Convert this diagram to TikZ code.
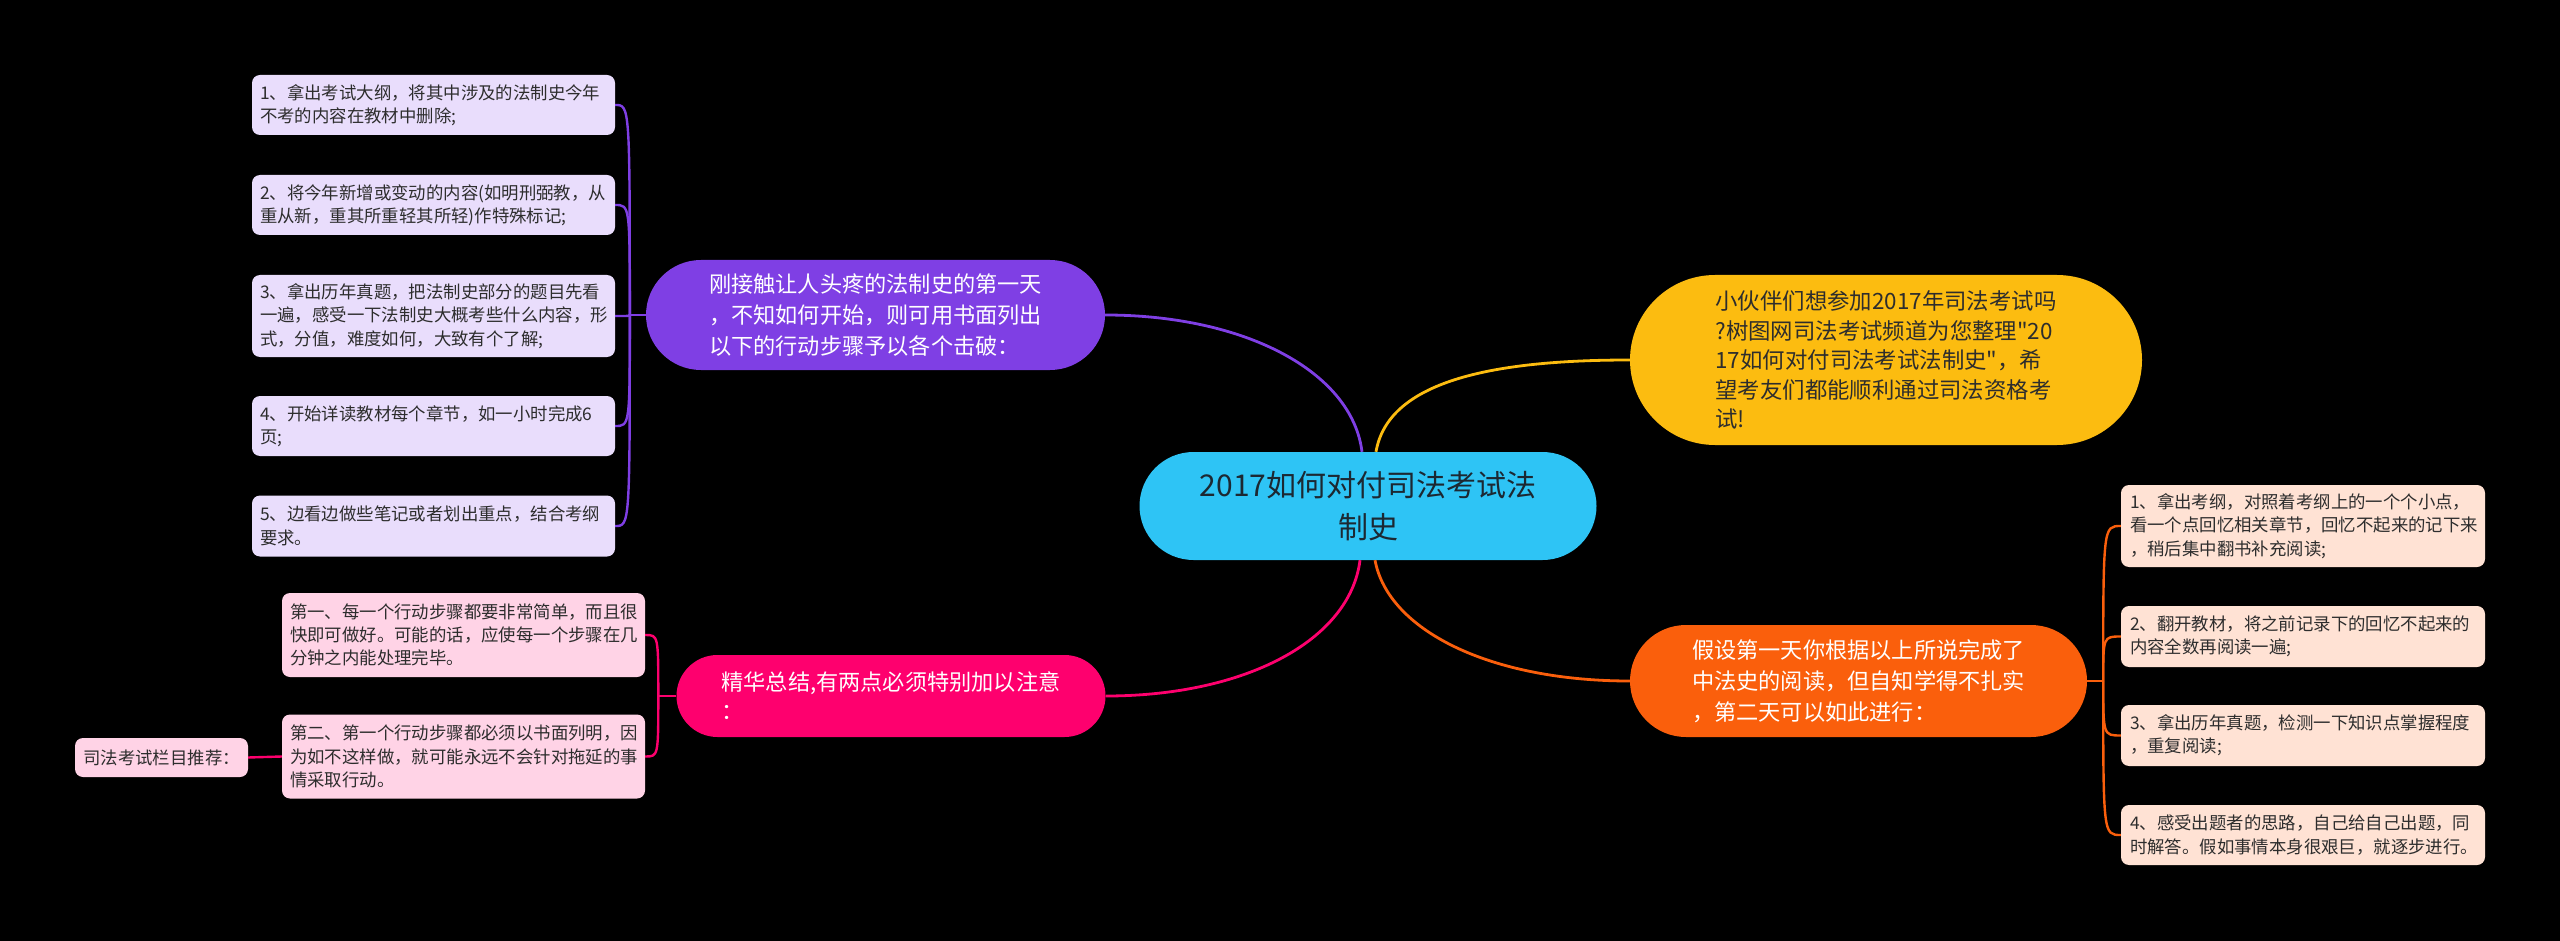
\documentclass[tikz,border=0pt]{standalone}
\usepackage{fontspec}
\setmainfont{Noto Sans CJK SC}
\newfontfamily\plaincjk{Noto Sans CJK SC}
\usetikzlibrary{calc}
\definecolor{cblue}{RGB}{46,196,245}
\definecolor{cpurple}{RGB}{127,63,228}
\definecolor{cyellow}{RGB}{252,188,16}
\definecolor{corange}{RGB}{250,95,12}
\definecolor{cpink}{RGB}{254,0,110}
\definecolor{lpurple}{RGB}{233,221,252}
\definecolor{lpink}{RGB}{255,211,230}
\definecolor{lorange}{RGB}{255,226,212}
\definecolor{tdark}{RGB}{45,45,45}
\definecolor{tcenter}{RGB}{28,40,50}
\tikzset{
  mainnode/.style={rectangle,inner sep=0pt,align=left},
  leafbox/.style={rectangle,rounded corners=8pt,inner xsep=8pt,inner ysep=0pt,
    text width=347pt,align=left,text=tdark,font=\fontsize{17.4}{23.3}\selectfont},
  mainline/.style={line width=2.8pt},
  leafline/.style={line width=2.4pt}
}
\begin{document}
\begin{tikzpicture}[x=1pt,y=-1pt]
\useasboundingbox[fill=black] (0,0) rectangle (2560,941);

% main nodes
\node[mainnode,fill=cblue,minimum width=457pt,minimum height=108pt,rounded corners=54pt,
  align=center,text=tcenter,font=\fontsize{30}{42}\selectfont] (c) at (1368,506)
  {2017如何对付司法考试法\\制史};
\node[mainnode,fill=cpurple,minimum width=459pt,minimum height=110pt,rounded corners=55pt,
  text=white,font=\fontsize{22.2}{31}\selectfont] (pm) at (875.5,315)
  {刚接触让人头疼的法制史的第一天\\，不知如何开始，则可用书面列出\\以下的行动步骤予以各个击破：};
\node[mainnode,fill=cyellow,minimum width=512pt,minimum height=170pt,rounded corners=85pt,
  text=tdark,font=\plaincjk\fontsize{22.4}{29.5}\selectfont] (ym) at (1886,360)
  {小伙伴们想参加2017年司法考试吗\\?树图网司法考试频道为您整理"20\\17如何对付司法考试法制史"，希\\望考友们都能顺利通过司法资格考\\试!};
\node[mainnode,fill=corange,minimum width=457pt,minimum height=112pt,rounded corners=56pt,
  text=white,font=\fontsize{22.2}{31}\selectfont] (om) at (1858.5,681)
  {假设第一天你根据以上所说完成了\\中法史的阅读，但自知学得不扎实\\，第二天可以如此进行：};
\node[mainnode,fill=cpink,minimum width=429pt,minimum height=82pt,rounded corners=41pt,
  text=white,font=\fontsize{22.2}{29}\selectfont] (pk) at (891,696)
  {精华总结,有两点必须特别加以注意\\：};

% purple leaves
\node[leafbox,fill=lpurple,minimum height=60pt] (p1) at (433.5,105)
  {1、拿出考试大纲，将其中涉及的法制史今年\\不考的内容在教材中删除;};
\node[leafbox,fill=lpurple,minimum height=60pt] (p2) at (433.5,205)
  {2、将今年新增或变动的内容(如明刑弼教，从\\重从新，重其所重轻其所轻)作特殊标记;};
\node[leafbox,fill=lpurple,minimum height=82pt] (p3) at (433.5,316)
  {3、拿出历年真题，把法制史部分的题目先看\\一遍，感受一下法制史大概考些什么内容，形\\式，分值，难度如何，大致有个了解;};
\node[leafbox,fill=lpurple,minimum height=60pt] (p4) at (433.5,426)
  {4、开始详读教材每个章节，如一小时完成6\\页;};
\node[leafbox,fill=lpurple,minimum height=61pt] (p5) at (433.5,526)
  {5、边看边做些笔记或者划出重点，结合考纲\\要求。};

% pink leaves
\node[leafbox,fill=lpink,minimum height=84pt] (kA) at (463.5,635)
  {第一、每一个行动步骤都要非常简单，而且很\\快即可做好。可能的话，应使每一个步骤在几\\分钟之内能处理完毕。};
\node[leafbox,fill=lpink,minimum height=84pt] (kB) at (463.5,756.5)
  {第二、第一个行动步骤都必须以书面列明，因\\为如不这样做，就可能永远不会针对拖延的事\\情采取行动。};
\node[rectangle,rounded corners=8pt,inner sep=0pt,fill=lpink,minimum width=173pt,minimum height=39pt,
  text=tdark,font=\fontsize{17.4}{23.3}\selectfont] (sm) at (161.5,757.5)
  {司法考试栏目推荐：};

% orange leaves
\node[leafbox,fill=lorange,minimum height=82pt,inner xsep=9pt,text width=346pt] (o1) at (2303,526)
  {1、拿出考纲，对照着考纲上的一个个小点，\\看一个点回忆相关章节，回忆不起来的记下来\\，稍后集中翻书补充阅读;};
\node[leafbox,fill=lorange,minimum height=61pt,inner xsep=9pt,text width=346pt] (o2) at (2303,636.5)
  {2、翻开教材，将之前记录下的回忆不起来的\\内容全数再阅读一遍;};
\node[leafbox,fill=lorange,minimum height=61pt,inner xsep=9pt,text width=346pt] (o3) at (2303,735.5)
  {3、拿出历年真题，检测一下知识点掌握程度\\，重复阅读;};
\node[leafbox,fill=lorange,minimum height=60pt,inner xsep=9pt,text width=346pt] (o4) at (2303,835)
  {4、感受出题者的思路，自己给自己出题，同\\时解答。假如事情本身很艰巨，就逐步进行。};

% main connectors
\draw[mainline,cpurple] ($(c.north)+(-6,0)$) .. controls ($(c.north)+(-16,-80)$) and ($(pm.east)+(140,0)$) .. (pm.east);
\draw[mainline,cyellow] ($(c.north)+(8,0)$) .. controls ($(c.north)+(20,-70)$) and ($(ym.west)+(-140,0)$) .. (ym.west);
\draw[mainline,cpink] ($(c.south)+(-8,0)$) .. controls ($(c.south)+(-18,80)$) and ($(pk.east)+(140,0)$) .. (pk.east);
\draw[mainline,corange] ($(c.south)+(7,0)$) .. controls ($(c.south)+(20,70)$) and ($(om.west)+(-140,0)$) .. (om.west);

% purple leaf connectors
\draw[leafline,cpurple] (pm.west) -- ++(-16,0) coordinate (ps);
\foreach \n in {p1,p2,p3,p4,p5}
  \draw[leafline,cpurple] (ps) .. controls (ps |- \n.east) .. (\n.east);

% pink leaf connectors
\draw[leafline,cpink] (pk.west) -- ++(-18,0) coordinate (ks);
\foreach \n in {kA,kB}
  \draw[leafline,cpink] (ks) .. controls (ks |- \n.east) .. (\n.east);
\draw[leafline,cpink] (kB.west) -- (sm.east);

% orange leaf connectors
\draw[leafline,corange] (om.east) -- ++(16,0) coordinate (os);
\foreach \n in {o1,o2,o3,o4}
  \draw[leafline,corange] (os) .. controls (os |- \n.west) .. (\n.west);
\end{tikzpicture}
\end{document}
